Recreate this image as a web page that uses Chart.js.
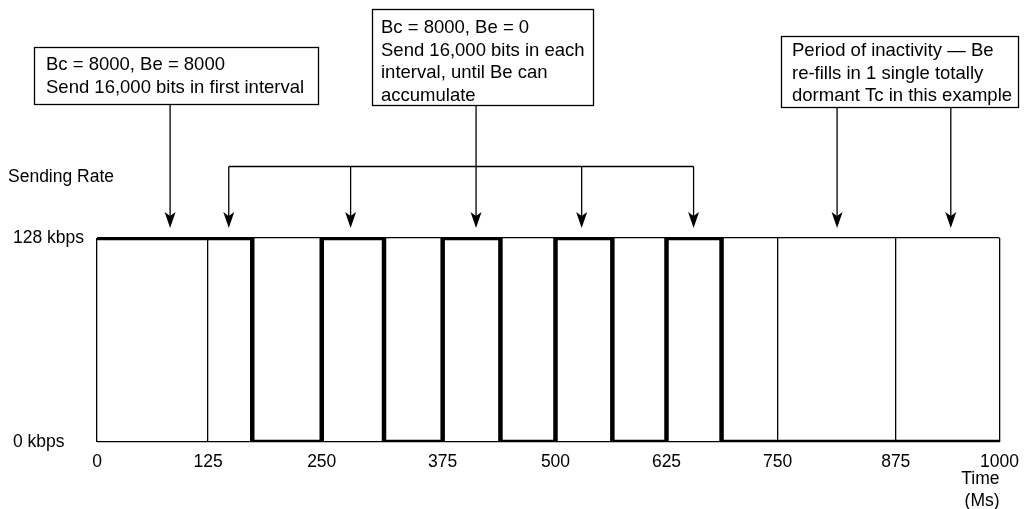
<!DOCTYPE html>
<html>
<head>
<meta charset="utf-8">
<script src="https://cdn.jsdelivr.net/npm/chart.js@4.4.1/dist/chart.umd.min.js"></script>
<style>
  html, body { margin: 0; padding: 0; background: #fff; }
  #wrap { width: 1029px; height: 509px; position: relative; }
</style>
</head>
<body>
<div id="wrap"><canvas id="grafico"></canvas></div>
<script>
// sending rate (kbps), each value held until the next time (ms)
const stepTimes = [0, 172, 249, 318, 383, 447, 508, 571, 631, 692, 1000];
const stepRates = [128, 0, 128, 0, 128, 0, 128, 0, 128, 0, 0];

// Tc interval boundaries and their labels
const intervalEdges = [0, 123, 249, 383, 508, 631, 754, 885, 1000];
const intervalLabels = ['0', '125', '250', '375', '500', '625', '750', '875', '1000'];

const rateTicks = [0, 128];
const rateLabels = ['0 kbps', '128 kbps'];

// callout notes and the times their arrows point at
const burstNote = ['Bc = 8000, Be = 8000', 'Send 16,000 bits in first interval'];
const burstTargets = [81];
const steadyNote = ['Bc = 8000, Be = 0', 'Send 16,000 bits in each', 'interval, until Be can', 'accumulate'];
const steadyTargets = [146, 281, 537, 661];
const steadyStem = 420;
const idleNote = ['Period of inactivity \u2014 Be', 're-fills in 1 single totally', 'dormant Tc in this example'];
const idleTargets = [820, 946];

const FONT = "'Liberation Sans', Arial, Helvetica, sans-serif";
Chart.defaults.font.family = FONT;
Chart.defaults.font.size = 17.5;
Chart.defaults.color = '#000';

function arrow(ctx, x, y0, y1) {
  ctx.beginPath();
  ctx.moveTo(x, y0);
  ctx.lineTo(x, y1 - 12);
  ctx.stroke();
  ctx.beginPath();
  ctx.moveTo(x, y1);
  ctx.lineTo(x - 5.5, y1 - 16);
  ctx.lineTo(x, y1 - 12);
  ctx.lineTo(x + 5.5, y1 - 16);
  ctx.closePath();
  ctx.fill();
}

function noteBox(ctx, lines, left, top, width, height, textX, firstBase) {
  ctx.fillStyle = '#fff';
  ctx.fillRect(left, top, width, height);
  ctx.strokeRect(left + 0.5, top + 0.5, width, height);
  ctx.fillStyle = '#000';
  lines.forEach((t, i) => ctx.fillText(t, textX, firstBase + i * 22.5));
}

const callouts = {
  id: 'callouts',
  afterDraw(chart) {
    const {ctx, chartArea, scales: {x}} = chart;
    const tip = chartArea.top - 10;
    ctx.save();
    ctx.strokeStyle = '#000';
    ctx.fillStyle = '#000';
    ctx.lineWidth = 1.3;
    ctx.font = '18.5px ' + FONT;
    ctx.textBaseline = 'alphabetic';

    // first interval burst
    noteBox(ctx, burstNote, 34, 47, 284, 57, 46, 70);
    burstTargets.forEach(t => arrow(ctx, x.getPixelForValue(t), 104, tip));

    // steady intervals: stem from the box plus a bracket with drops
    noteBox(ctx, steadyNote, 372, 9, 221, 96, 381, 33);
    const bracketY = 166.5;
    const xs = steadyTargets.map(t => x.getPixelForValue(t));
    ctx.beginPath();
    ctx.moveTo(Math.min(...xs), bracketY);
    ctx.lineTo(Math.max(...xs), bracketY);
    ctx.stroke();
    xs.forEach(px => arrow(ctx, px, bracketY, tip));
    arrow(ctx, x.getPixelForValue(steadyStem), 105, tip);

    // idle period
    noteBox(ctx, idleNote, 781, 36, 237, 71, 792, 56);
    idleTargets.forEach(t => arrow(ctx, x.getPixelForValue(t), 107, tip));

    ctx.font = '17.5px ' + FONT;
    ctx.fillText('Sending Rate', 8, 182);
    ctx.restore();
  }
};

new Chart(document.getElementById('grafico'), {
  type: 'line',
  data: {
    datasets: [{
      data: stepTimes.map((t, i) => ({x: t, y: stepRates[i]})),
      stepped: 'before',
      borderColor: '#000',
      borderWidth: 4.5,
      pointRadius: 0,
      fill: false
    }]
  },
  options: {
    responsive: true,
    maintainAspectRatio: false,
    animation: false,
    events: [],
    layout: { padding: { left: 13, top: 238, right: 27, bottom: 0 } },
    plugins: { legend: { display: false }, tooltip: { enabled: false } },
    scales: {
      x: {
        type: 'linear',
        min: 0,
        max: 1000,
        afterBuildTicks: s => { s.ticks = intervalEdges.map(v => ({value: v})); },
        afterFit: s => { s.height = 67; },
        ticks: {
          autoSkip: false,
          maxRotation: 0,
          padding: 10,
          callback: (v, i) => intervalLabels[i]
        },
        grid: { color: '#000', lineWidth: 1.3, drawTicks: false },
        border: { display: false },
        title: {
          display: true,
          text: ['Time', '(Ms)'],
          align: 'end',
          font: { size: 17.5, lineHeight: 1.3 },
          padding: { top: 0, bottom: -4 }
        }
      },
      y: {
        type: 'linear',
        min: 0,
        max: 128,
        afterBuildTicks: s => { s.ticks = rateTicks.map(v => ({value: v})); },
        afterFit: s => { s.width = 84; },
        ticks: {
          crossAlign: 'far',
          padding: 8,
          callback: (v, i) => rateLabels[i]
        },
        grid: { color: '#000', lineWidth: 1.3, drawTicks: false },
        border: { display: false }
      }
    }
  },
  plugins: [callouts]
});
</script>
</body>
</html>
